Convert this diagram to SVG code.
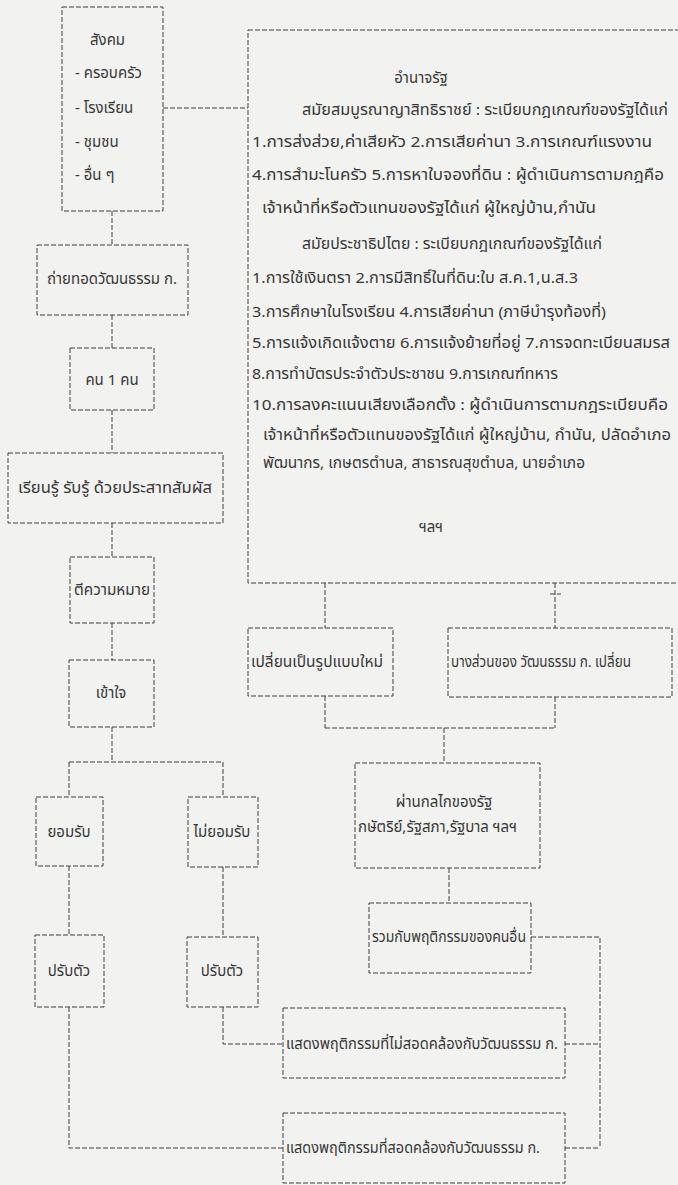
<svg xmlns="http://www.w3.org/2000/svg" width="678" height="1185" viewBox="0 0 678 1185">
<style>
.bg{fill:#f2f2f0}
.box{fill:none;stroke:#404040;stroke-width:1;stroke-dasharray:5 2}
.ln{fill:none;stroke:#404040;stroke-width:1;stroke-dasharray:5 2}
text{font-family:"Noto Sans Thai","Noto Sans Thai UI","Tlwg Typo","Loma","Garuda","Norasi","Noto Sans","DejaVu Sans",sans-serif;font-size:15px;fill:#383838}
.m{text-anchor:middle}
</style>
<rect class="bg" x="0" y="0" width="678" height="1185"/>
<g id="connectors">
<path class="ln" d="M163 108H248"/>
<path class="ln" d="M112 211V245M112 315V348M112 410V453M112 523V557M112 623V660M112 727V762M69 762H223M69 762V797M223 762V797M69 866V935M223 867V937M69 1007V1148H283M223 1007V1044H283"/>
<path class="ln" d="M325 583V628M555 583V628M550 594H561M325 696V728M555 697V728M325 728H555M444 728V763M449 868V903M531 937H600V1148M565 1044H600M565 1148H600"/>
</g>
<g id="society">
<rect class="box" x="62" y="7" width="101" height="204"/>
<text x="90" y="45">สังคม</text>
<text x="75" y="78">- ครอบครัว</text>
<text x="75" y="113">- โรงเรียน</text>
<text x="75" y="147">- ชุมชน</text>
<text x="75" y="180">- อื่น ๆ</text>
</g>
<g id="state-power">
<rect class="box" x="248" y="30" width="445" height="553"/>
<text class="m" x="421" y="83">อำนาจรัฐ</text>
<text x="302" y="115" textLength="366" lengthAdjust="spacingAndGlyphs">สมัยสมบูรณาญาสิทธิราชย์ : ระเบียบกฎเกณฑ์ของรัฐได้แก่</text>
<text x="252" y="147" textLength="400" lengthAdjust="spacingAndGlyphs">1.การส่งส่วย,ค่าเสียหัว 2.การเสียค่านา 3.การเกณฑ์แรงงาน</text>
<text x="252" y="180" textLength="412" lengthAdjust="spacingAndGlyphs">4.การสำมะโนครัว 5.การหาใบจองที่ดิน : ผู้ดำเนินการตามกฎคือ</text>
<text x="262" y="213" textLength="334" lengthAdjust="spacingAndGlyphs">เจ้าหน้าที่หรือตัวแทนของรัฐได้แก่ ผู้ใหญ่บ้าน,กำนัน</text>
<text x="302" y="249" textLength="300" lengthAdjust="spacingAndGlyphs">สมัยประชาธิปไตย : ระเบียบกฎเกณฑ์ของรัฐได้แก่</text>
<text x="252" y="283" textLength="326" lengthAdjust="spacingAndGlyphs">1.การใช้เงินตรา 2.การมีสิทธิ์ในที่ดิน:ใบ ส.ค.1,น.ส.3</text>
<text x="252" y="317" textLength="354" lengthAdjust="spacingAndGlyphs">3.การศึกษาในโรงเรียน 4.การเสียค่านา (ภาษีบำรุงท้องที่)</text>
<text x="252" y="348" textLength="418" lengthAdjust="spacingAndGlyphs">5.การแจ้งเกิดแจ้งตาย 6.การแจ้งย้ายที่อยู่ 7.การจดทะเบียนสมรส</text>
<text x="252" y="379" textLength="306" lengthAdjust="spacingAndGlyphs">8.การทำบัตรประจำตัวประชาชน 9.การเกณฑ์ทหาร</text>
<text x="252" y="410" textLength="416" lengthAdjust="spacingAndGlyphs">10.การลงคะแนนเสียงเลือกตั้ง : ผู้ดำเนินการตามกฎระเบียบคือ</text>
<text x="263" y="440" textLength="408" lengthAdjust="spacingAndGlyphs">เจ้าหน้าที่หรือตัวแทนของรัฐได้แก่ ผู้ใหญ่บ้าน, กำนัน, ปลัดอำเภอ</text>
<text x="263" y="468" textLength="322" lengthAdjust="spacingAndGlyphs">พัฒนากร, เกษตรตำบล, สาธารณสุขตำบล, นายอำเภอ</text>
<text class="m" x="431" y="532">ฯลฯ</text>
</g>
<g id="transmit"><rect class="box" x="37" y="245" width="151" height="70"/><text class="m" x="112" y="284" textLength="130" lengthAdjust="spacingAndGlyphs">ถ่ายทอดวัฒนธรรม ก.</text></g>
<g id="person"><rect class="box" x="70" y="348" width="84" height="62"/><text class="m" x="112" y="385">คน 1 คน</text></g>
<g id="learn"><rect class="box" x="8" y="453" width="215" height="70"/><text class="m" x="115" y="493" textLength="194" lengthAdjust="spacingAndGlyphs">เรียนรู้ รับรู้ ด้วยประสาทสัมผัส</text></g>
<g id="interpret"><rect class="box" x="70" y="557" width="84" height="66"/><text class="m" x="112" y="595" textLength="76" lengthAdjust="spacingAndGlyphs">ตีความหมาย</text></g>
<g id="understand"><rect class="box" x="69" y="660" width="85" height="67"/><text class="m" x="111" y="698">เข้าใจ</text></g>
<g id="accept"><rect class="box" x="36" y="797" width="67" height="69"/><text class="m" x="69" y="837">ยอมรับ</text></g>
<g id="reject"><rect class="box" x="188" y="797" width="70" height="70"/><text class="m" x="222" y="837">ไม่ยอมรับ</text></g>
<g id="adapt-1"><rect class="box" x="35" y="935" width="69" height="72"/><text class="m" x="69" y="976">ปรับตัว</text></g>
<g id="adapt-2"><rect class="box" x="187" y="937" width="71" height="70"/><text class="m" x="222" y="976">ปรับตัว</text></g>
<g id="new-form"><rect class="box" x="248" y="628" width="145" height="68"/><text x="251" y="667" textLength="132" lengthAdjust="spacingAndGlyphs">เปลี่ยนเป็นรูปแบบใหม่</text></g>
<g id="partial-change"><rect class="box" x="448" y="628" width="224" height="69"/><text x="451" y="667" textLength="180" lengthAdjust="spacingAndGlyphs">บางส่วนของ วัฒนธรรม ก. เปลี่ยน</text></g>
<g id="state-mechanism"><rect class="box" x="355" y="763" width="185" height="105"/><text class="m" x="444" y="807">ผ่านกลไกของรัฐ</text><text x="358" y="832">กษัตริย์,รัฐสภา,รัฐบาล ฯลฯ</text></g>
<g id="combine"><rect class="box" x="369" y="903" width="162" height="70"/><text x="372" y="942" textLength="154" lengthAdjust="spacingAndGlyphs">รวมกับพฤติกรรมของคนอื่น</text></g>
<g id="nonconform"><rect class="box" x="283" y="1008" width="282" height="70"/><text x="286" y="1049" textLength="272" lengthAdjust="spacingAndGlyphs">แสดงพฤติกรรมที่ไม่สอดคล้องกับวัฒนธรรม ก.</text></g>
<g id="conform"><rect class="box" x="283" y="1113" width="282" height="70"/><text x="286" y="1153" textLength="254" lengthAdjust="spacingAndGlyphs">แสดงพฤติกรรมที่สอดคล้องกับวัฒนธรรม ก.</text></g>
</svg>
